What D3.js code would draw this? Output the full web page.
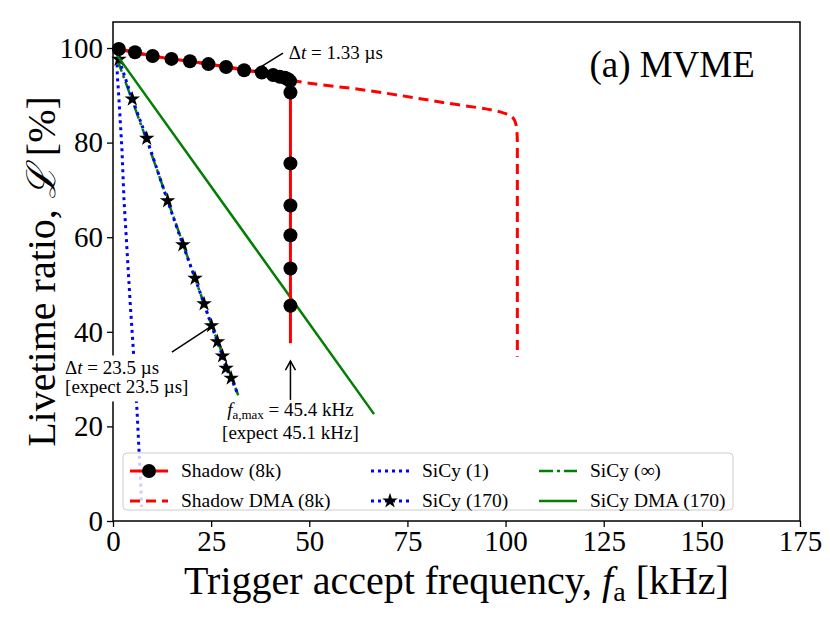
<!DOCTYPE html>
<html>
<head>
<meta charset="utf-8">
<script src="https://cdn.jsdelivr.net/npm/d3@7"></script>
<style>
  body { margin: 0; background: #fff; }
  text { font-family: "Liberation Serif", "DejaVu Serif", serif; fill: #000; }
</style>
</head>
<body>
<div id="visual"></div>
<script>
// Shadow (8k) readout, line goes a bit below the last marker
const shadowF = [1.5, 5.6, 10.1, 14.9, 19.6, 24.3, 28.8, 33.4, 37.9, 40.8, 42.5, 43.8, 44.6, 45.1, 45.2, 45.2, 45.2, 45.2, 45.2, 45.2, 45.2]
const shadowL = [99.8, 99.1, 98.3, 97.7, 97.2, 96.6, 96.0, 95.3, 94.8, 94.3, 93.9, 93.7, 93.4, 93.0, 90.6, 75.6, 66.7, 60.4, 53.4, 45.5, 37.6]
const shadowMarked = 20 // number of points that get a circle

const dmaF = [1.5, 10.1, 24.3, 37.9, 45.1, 65, 84, 98.6, 101.6, 102.7, 103.0, 103.0]
const dmaL = [99.8, 98.3, 96.6, 94.8, 93.2, 91.0, 88.5, 86.5, 85.5, 83.7, 80.0, 34.7]

const sicy1F = [1.0, 1.1, 1.3, 1.53, 2.29, 2.80, 3.57, 4.33, 5.10, 6.11, 7.13, 7.3]
const sicy1L = [99.5, 94.0, 92.0, 89.0, 78.4, 67.9, 57.3, 46.7, 37.2, 23.5, 6.6, 3.0]

const sicy170F = [1.53, 4.92, 8.59, 13.9, 17.8, 20.9, 23.2, 25.1, 26.6, 27.9, 28.8, 30.1]
const sicy170L = [97.6, 89.2, 80.9, 67.7, 58.4, 51.3, 45.9, 41.3, 37.9, 34.9, 32.3, 30.2]
const sicy170EndF = 31.7, sicy170EndL = 27.0

const sicyInfF = [1.0, 8.57, 17.9, 25.1, 31.9]
const sicyInfL = [97.8, 80.5, 58.4, 41.4, 26.6]

const sicyDmaF = [1.0, 45.1, 66.5]
const sicyDmaL = [98.5, 47.4, 22.6]

const xTicks = [0, 25, 50, 75, 100, 125, 150, 175]
const yTicks = [0, 20, 40, 60, 80, 100]

const width = 830, height = 623
const margin = { top: 22, right: 30, bottom: 102, left: 113 }

let scaleX = d3.scaleLinear().domain([0, 175]).range([margin.left, width - margin.right])
let scaleY = d3.scaleLinear().domain([0, 105.5]).range([height - margin.bottom, margin.top])

const visual = d3.select("#visual")
  .append("svg")
  .attr("width", width)
  .attr("height", height)

const pts = (fs, ls) => fs.map((f, i) => [f, ls[i]])
const line = d3.line().x(d => scaleX(d[0])).y(d => scaleY(d[1]))

const plot = visual.append("g")

// SiCy (1)
plot.append("path")
  .attr("d", line(pts(sicy1F, sicy1L)))
  .attr("fill", "none").attr("stroke", "#0000ff").attr("stroke-width", 3)
  .attr("stroke-dasharray", "3,4")

// SiCy (inf)
plot.append("path")
  .attr("d", line(pts(sicyInfF, sicyInfL)))
  .attr("fill", "none").attr("stroke", "#008000").attr("stroke-width", 2.5)
  .attr("stroke-dasharray", "14,4,3,4")

// SiCy (170)
plot.append("path")
  .attr("d", line(pts(sicy170F.concat([sicy170EndF]), sicy170L.concat([sicy170EndL]))))
  .attr("fill", "none").attr("stroke", "#0000ff").attr("stroke-width", 3)
  .attr("stroke-dasharray", "3,4")

plot.selectAll(".star")
  .data(pts(sicy170F, sicy170L))
  .enter()
  .append("path")
  .attr("class", "star")
  .attr("d", d3.symbol(d3.symbolStar, 75))
  .attr("transform", d => "translate(" + scaleX(d[0]) + "," + scaleY(d[1]) + ")")
  .attr("fill", "#000")

// SiCy DMA (170)
plot.append("path")
  .attr("d", line(pts(sicyDmaF, sicyDmaL)))
  .attr("fill", "none").attr("stroke", "#008000").attr("stroke-width", 2.5)

// Shadow DMA
plot.append("path")
  .attr("d", d3.line().x(d => scaleX(d[0])).y(d => scaleY(d[1])).curve(d3.curveMonotoneY)(pts(dmaF, dmaL)))
  .attr("fill", "none").attr("stroke", "#ff0000").attr("stroke-width", 3)
  .attr("stroke-dasharray", "10,6")

// Shadow
plot.append("path")
  .attr("d", line(pts(shadowF, shadowL)))
  .attr("fill", "none").attr("stroke", "#ff0000").attr("stroke-width", 3)

plot.selectAll(".dot")
  .data(pts(shadowF, shadowL).slice(0, shadowMarked))
  .enter()
  .append("circle")
  .attr("class", "dot")
  .attr("cx", d => scaleX(d[0]))
  .attr("cy", d => scaleY(d[1]))
  .attr("r", 7)
  .attr("fill", "#000")

// axes
visual.append("g")
  .attr("transform", "translate(0," + scaleY(0) + ")")
  .call(d3.axisBottom(scaleX).tickValues(xTicks).tickSize(6).tickPadding(3))
  .call(g => g.select(".domain").remove())
  .call(g => g.selectAll("line").attr("stroke-width", 1.3))
  .call(g => g.selectAll("text").attr("font-size", 29).attr("font-family", "Liberation Serif"))

visual.append("g")
  .attr("transform", "translate(" + scaleX(0) + ",0)")
  .call(d3.axisLeft(scaleY).tickValues(yTicks).tickSize(6).tickPadding(4))
  .call(g => g.select(".domain").remove())
  .call(g => g.selectAll("line").attr("stroke-width", 1.3))
  .call(g => g.selectAll("text").attr("font-size", 29).attr("font-family", "Liberation Serif"))

visual.append("rect")
  .attr("x", scaleX(0)).attr("y", scaleY(105.5))
  .attr("width", scaleX(175) - scaleX(0))
  .attr("height", scaleY(0) - scaleY(105.5))
  .attr("fill", "none").attr("stroke", "#000").attr("stroke-width", 1.5)

// annotations
const note = visual.append("g").attr("font-size", 19)

note.append("line")
  .attr("x1", scaleX(43.3)).attr("y1", scaleY(98.9))
  .attr("x2", scaleX(35.9)).attr("y2", scaleY(95.1))
  .attr("stroke", "#000").attr("stroke-width", 1.5)
let t1 = note.append("text").attr("x", scaleX(44.8)).attr("y", scaleY(97.7))
t1.append("tspan").text("Δ")
t1.append("tspan").attr("font-style", "italic").text("t")
t1.append("tspan").text(" = 1.33 µs")

note.append("rect")
  .attr("x", scaleX(-13.5)).attr("y", scaleY(35))
  .attr("width", 130).attr("height", 46)
  .attr("fill", "#fff")
note.append("line")
  .attr("x1", scaleX(15.0)).attr("y1", scaleY(35.7))
  .attr("x2", scaleX(24.7)).attr("y2", scaleY(41.0))
  .attr("stroke", "#000").attr("stroke-width", 1.5)
let t2 = note.append("text").attr("x", scaleX(-12.2)).attr("y", scaleY(31.1))
t2.append("tspan").text("Δ")
t2.append("tspan").attr("font-style", "italic").text("t")
t2.append("tspan").text(" = 23.5 µs")
note.append("text").attr("x", scaleX(-12.2)).attr("y", scaleY(27.1)).text("[expect 23.5 µs]")

note.append("line")
  .attr("x1", scaleX(45.2)).attr("y1", scaleY(25.6))
  .attr("x2", scaleX(45.2)).attr("y2", scaleY(33.8))
  .attr("stroke", "#000").attr("stroke-width", 1.5)
note.append("path")
  .attr("d", "M" + (scaleX(45.2) - 5) + "," + (scaleY(33.8) + 9) + "L" + scaleX(45.2) + "," + scaleY(33.8) + "L" + (scaleX(45.2) + 5) + "," + (scaleY(33.8) + 9))
  .attr("fill", "none").attr("stroke", "#000").attr("stroke-width", 1.5)
let t3 = note.append("text").attr("x", scaleX(45.2)).attr("y", scaleY(22.2)).attr("text-anchor", "middle")
t3.append("tspan").attr("font-style", "italic").text("f")
t3.append("tspan").attr("font-size", 13).attr("dy", 3).text("a,max")
t3.append("tspan").attr("dy", -3).text(" = 45.4 kHz")
note.append("text").attr("x", scaleX(45.2)).attr("y", scaleY(17.4)).attr("text-anchor", "middle").text("[expect 45.1 kHz]")

visual.append("text")
  .attr("x", scaleX(163.5)).attr("y", scaleY(93.9))
  .attr("text-anchor", "end")
  .attr("font-size", 37)
  .text("(a) MVME")

// axis labels
let xl = visual.append("text")
  .attr("x", (scaleX(0) + scaleX(175)) / 2).attr("y", 594)
  .attr("text-anchor", "middle").attr("font-size", 40)
xl.append("tspan").text("Trigger accept frequency, ")
xl.append("tspan").attr("font-style", "italic").text("f")
xl.append("tspan").attr("font-size", 28).attr("dy", 7).text("a")
xl.append("tspan").attr("dy", -7).text(" [kHz]")

let yl = visual.append("text")
  .attr("transform", "translate(55," + ((scaleY(0) + scaleY(105.5)) / 2) + ") rotate(-90)")
  .attr("text-anchor", "middle").attr("font-size", 40)
yl.append("tspan").text("Livetime ratio, ")
yl.append("tspan").attr("font-style", "italic").text("ℒ")
yl.append("tspan").text(" [%]")

// legend
const legendNames = ["Shadow (8k)", "Shadow DMA (8k)", "SiCy (1)", "SiCy (170)", "SiCy (∞)", "SiCy DMA (170)"]
const legendColors = ["#ff0000", "#ff0000", "#0000ff", "#0000ff", "#008000", "#008000"]
const legendDash = [null, "10,6", "3,4", "3,4", "14,4,3,4", null]
const legendMarker = ["circle", null, null, "star", null, null]
const legendColX = [130, 371, 539]

const legend = visual.append("g")
legend.append("rect")
  .attr("x", 123).attr("y", 453).attr("width", 610).attr("height", 57)
  .attr("rx", 4)
  .attr("fill", "#fff").attr("fill-opacity", 0.8)
  .attr("stroke", "#cccccc").attr("stroke-width", 1)

legendNames.forEach((name, i) => {
  let x0 = legendColX[Math.floor(i / 2)]
  let y0 = i % 2 === 0 ? 471 : 501
  legend.append("line")
    .attr("x1", x0).attr("x2", x0 + 38).attr("y1", y0).attr("y2", y0)
    .attr("stroke", legendColors[i]).attr("stroke-width", i >= 4 ? 2.5 : 3)
    .attr("stroke-dasharray", legendDash[i])
  if (legendMarker[i] === "circle") {
    legend.append("circle").attr("cx", x0 + 19).attr("cy", y0).attr("r", 7).attr("fill", "#000")
  } else if (legendMarker[i] === "star") {
    legend.append("path").attr("d", d3.symbol(d3.symbolStar, 75))
      .attr("transform", "translate(" + (x0 + 19) + "," + y0 + ")").attr("fill", "#000")
  }
  legend.append("text")
    .attr("x", x0 + 51).attr("y", y0 + 6)
    .attr("font-size", 19.5)
    .text(name)
})
</script>
</body>
</html>
